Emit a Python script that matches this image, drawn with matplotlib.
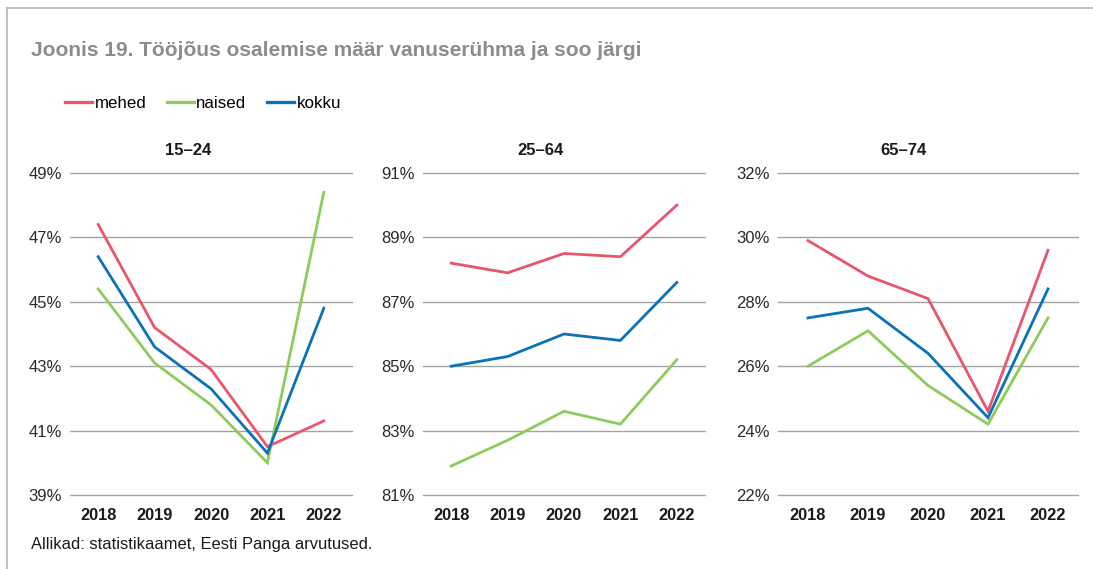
import numpy as np
import matplotlib.pyplot as plt
from matplotlib.lines import Line2D

plt.rcParams['font.family'] = ['Liberation Sans', 'DejaVu Sans']

# Data
years = ["2018", "2019", "2020", "2021", "2022"]
series_names = ["mehed", "naised", "kokku"]
colors = ["#e8566b", "#8dcb5c", "#0a72b8"]

panel_titles = ["15\u201324", "25\u201364", "65\u201374"]

mehed_15_24 = [47.4, 44.2, 42.9, 40.5, 41.3]
naised_15_24 = [45.4, 43.1, 41.8, 40.0, 48.4]
kokku_15_24 = [46.4, 43.6, 42.3, 40.3, 44.8]

mehed_25_64 = [88.2, 87.9, 88.5, 88.4, 90.0]
naised_25_64 = [81.9, 82.7, 83.6, 83.2, 85.2]
kokku_25_64 = [85.0, 85.3, 86.0, 85.8, 87.6]

mehed_65_74 = [29.9, 28.8, 28.1, 24.6, 29.6]
naised_65_74 = [26.0, 27.1, 25.4, 24.2, 27.5]
kokku_65_74 = [27.5, 27.8, 26.4, 24.4, 28.4]

y_ranges = [(39, 49), (81, 91), (22, 32)]

panels = [
    [mehed_15_24, naised_15_24, kokku_15_24],
    [mehed_25_64, naised_25_64, kokku_25_64],
    [mehed_65_74, naised_65_74, kokku_65_74],
]

W, H = 1093, 569
fig = plt.figure(figsize=(W / 100, H / 100), dpi=100)

# frame lines (top and left)
fig.add_artist(Line2D([7 / W, 1], [1 - 8 / H, 1 - 8 / H], color="#b5b5b5", lw=1.2))
fig.add_artist(Line2D([7 / W, 7 / W], [0, 1 - 8 / H], color="#b5b5b5", lw=1.2))

# axes positions in pixels (left, right)
ax_px = [(70, 352), (423, 705), (778, 1078)]
top_px, bot_px = 173, 495

for k, (l, r) in enumerate(ax_px):
    ax = fig.add_axes([l / W, 1 - bot_px / H, (r - l) / W, (bot_px - top_px) / H])
    x = np.arange(len(years))
    for vals, c in zip(panels[k], colors):
        ax.plot(x, vals, color=c, lw=2.0, solid_joinstyle="miter", zorder=3)
    lo, hi = y_ranges[k]
    ax.set_ylim(lo, hi)
    ax.set_xlim(-0.5, len(years) - 0.5)
    ax.set_yticks(np.arange(lo, hi + 1, 2))
    ax.set_yticklabels([f"{v}%" for v in range(lo, hi + 1, 2)])
    ax.set_xticks(x)
    ax.set_xticklabels(years, fontweight="bold")
    ax.grid(axis="y", color="#a3a3a3", lw=1.0)
    for gl in ax.get_ygridlines():
        gl.set_clip_on(False)
    ax.set_axisbelow(True)
    for s in ax.spines.values():
        s.set_visible(False)
    ax.tick_params(axis="y", length=0, pad=6, labelsize=12, labelcolor="#2a2a2a")
    ax.tick_params(axis="x", length=0, pad=9, labelsize=11.8, labelcolor="#1a1a1a")
    ax.set_title(panel_titles[k], fontsize=12, fontweight="bold", pad=13,
                 color="#1a1a1a", x=0.418)

# Title
fig.text(31 / W, 1 - 50 / H, "Joonis 19. Tööjõus osalemise määr vanuserühma ja soo järgi",
         fontsize=15, fontweight="bold", color="#8c8c8c", va="center", ha="left")

# Legend
handles = [Line2D([], [], color=c, lw=2.4) for c in colors]
fig.legend(handles, series_names, loc="center left", bbox_to_anchor=(65 / W, 1 - 103 / H),
           ncol=3, frameon=False, fontsize=12.2, handlelength=1.6, handletextpad=0.15,
           columnspacing=1.2, borderaxespad=0, borderpad=0)

# Source
fig.text(31 / W, 1 - 545 / H, "Allikad: statistikaamet, Eesti Panga arvutused.",
         fontsize=11.9, color="#1a1a1a", va="center", ha="left")

fig.savefig("out.png", dpi=100)
